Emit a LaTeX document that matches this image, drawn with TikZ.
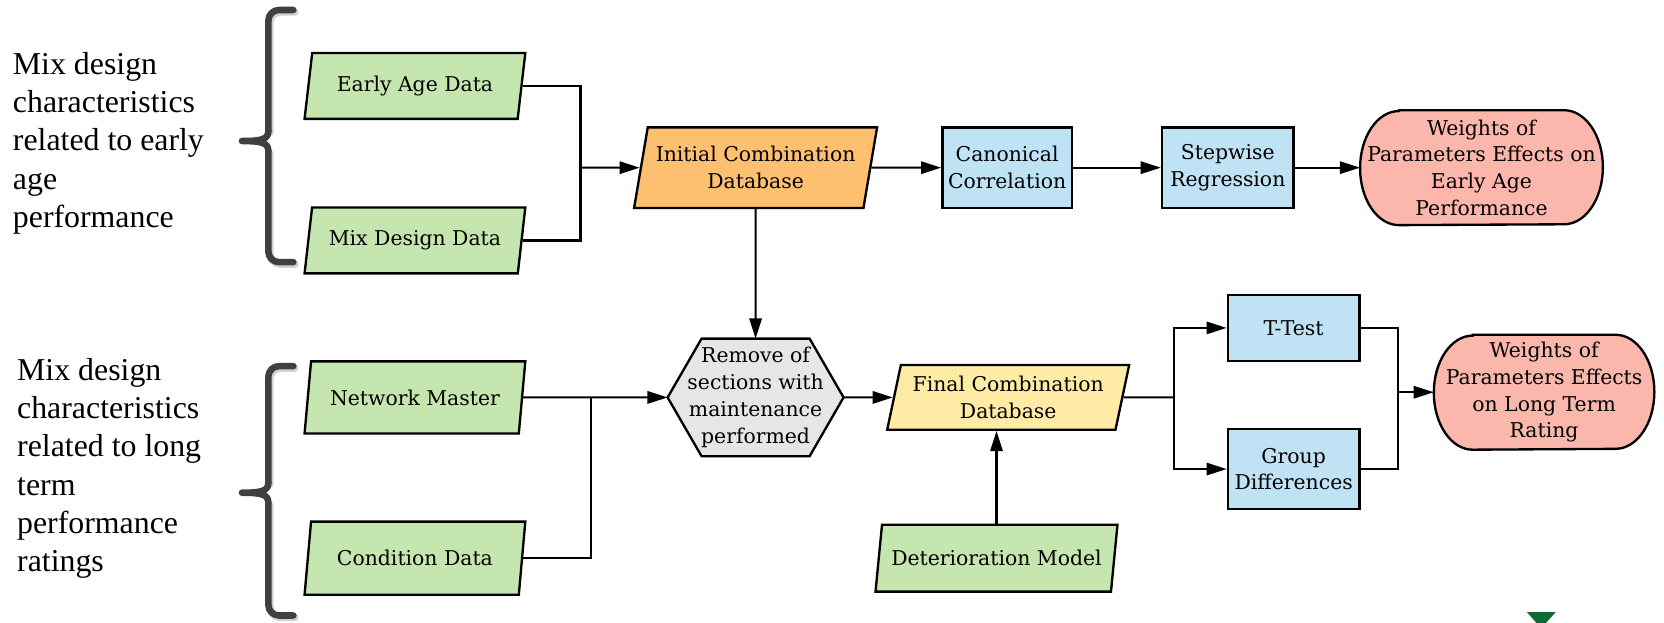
\documentclass[tikz,border=0pt]{standalone}
\usepackage{fontspec}
\setmainfont{DejaVu Serif}
\newfontfamily\leftfont{Liberation Serif}
\usetikzlibrary{arrows.meta,shapes.geometric,backgrounds}
\definecolor{cgreen}{HTML}{C5E7AF}
\definecolor{corange}{HTML}{FDBF70}
\definecolor{cblue}{HTML}{BFE3F5}
\definecolor{cpink}{HTML}{FCB7AC}
\definecolor{cyellow}{HTML}{FFEBA6}
\definecolor{cgray}{HTML}{E6E6E6}
\definecolor{cbracket}{HTML}{404040}
\definecolor{cdkgreen}{HTML}{0E6B36}
\begin{document}
\begin{tikzpicture}[x=0.5pt,y=-0.5pt,
  nodefont/.style={font=\fontsize{9.6}{12.6}\selectfont},
  base/.style={nodefont, align=center, line width=1.1pt, draw=black},
  para/.style={base, trapezium, trapezium left angle=75, trapezium right angle=105,
    trapezium stretches body, inner xsep=2pt, inner ysep=2pt, minimum width=104pt},
  procbox/.style={base, rectangle, fill=cblue, minimum width=61pt, inner sep=2pt},
  termnode/.style={nodefont, align=center, minimum height=53.75pt, inner sep=0pt},
  hexnode/.style={nodefont, align=center, minimum width=82.5pt, minimum height=55pt, inner sep=0pt},
  shapeline/.style={line width=1.1pt, draw=black},
  conn/.style={line width=1pt},
  arr/.style={conn, -{Triangle[length=9.5pt,width=5.8pt]}},
  sidetext/.style={font=\leftfont\fontsize{15}{18}\selectfont, align=left, anchor=west, inner sep=0pt},
  bracket/.style={line width=3.1pt, draw=cbracket, line cap=round, line join=round},
  bracketshadow/.style={line width=3.4pt, draw=black, opacity=0.18, line cap=round, line join=round}
]
\useasboundingbox (0,0) rectangle (1568,587);

% side texts
\node[sidetext] (txt1) at (11.8,135) {Mix design\\characteristics\\related to early\\age\\performance};
\node[sidetext] (txt2) at (15.8,441.3) {Mix design\\characteristics\\related to long\\term\\performance\\ratings};

% brackets
\foreach \t/\m/\b/\s in {9.4/132.9/247/bracketshadow, 345/464.3/580/bracketshadow}{
  \draw[\s, rounded corners=5pt, shift={(1.5,2)}] (276.4,\t) -- (252.9,\t) -- (252.9,\m-10);
  \draw[\s, rounded corners=5pt, shift={(1.5,2)}] (252.9,\m+10) -- (252.9,\b) -- (276.4,\b);
}
\foreach \t/\m/\b in {9.4/132.9/247, 345/464.3/580}{
  \draw[bracket, rounded corners=5pt] (276.4,\t) -- (252.9,\t) -- (252.9,\m-10);
  \draw[bracket] (252.9,\m-10) .. controls (252.9,\m-2) and (248,\m) .. (228,\m)
                 (228,\m) .. controls (248,\m) and (252.9,\m+2) .. (252.9,\m+10);
  \draw[bracket, rounded corners=5pt] (252.9,\m+10) -- (252.9,\b) -- (276.4,\b);
}

% input parallelograms
\node[para, fill=cgreen, minimum height=31pt] (EA) at (391,81) {Early Age Data};
\node[para, fill=cgreen, minimum height=31pt] (MD) at (391,226.6) {Mix Design Data};
\node[para, fill=cgreen, minimum height=34pt] (NM) at (391,374.5) {Network Master};
\node[para, fill=cgreen, minimum height=34.5pt] (CD) at (391,526) {Condition Data};

\node[para, fill=corange, minimum width=114.5pt, minimum height=38pt] (IC) at (712,158) {Initial Combination\\Database};
\node[procbox, minimum height=38pt] (CC) at (949,158) {Canonical\\Correlation};
\node[procbox, minimum width=62pt, minimum height=38pt] (SR) at (1157,158) {Stepwise\\Regression};
\node[termnode, minimum width=114pt] (T1) at (1396,158) {Weights of\\Parameters Effects on\\Early Age\\Performance};

\node[hexnode] (HX) at (712,374.5) {Remove of\\sections with\\maintenance\\performed};
\node[para, fill=cyellow, minimum width=114pt, minimum height=30.5pt] (FC) at (950,374.5) {Final Combination\\Database};
\node[para, fill=cgreen, minimum width=114pt, minimum height=31.5pt] (DM) at (939,526) {Deterioration Model};

\node[procbox, minimum width=62pt, minimum height=31pt] (TT) at (1219,309) {T-Test};
\node[procbox, minimum width=62pt, minimum height=37.7pt] (GD) at (1219,442) {Group\\Differences};
\node[termnode, minimum width=103.5pt] (T2) at (1455,369.6) {Weights of\\Parameters Effects\\on Long Term\\Rating};

% shapes drawn behind texts
\begin{scope}[on background layer]
  \foreach \n in {T1,T2}{
    \path[shapeline, fill=cpink] ([xshift=18.3pt]\n.north west) -- ([xshift=-18.3pt]\n.north east)
      arc[start angle=90, end angle=-90, x radius=18.3pt, y radius=26.875pt]
      -- ([xshift=18.3pt]\n.south west)
      arc[start angle=270, end angle=90, x radius=18.3pt, y radius=26.875pt] -- cycle;
  }
  \path[shapeline, fill=cgray] (HX.west) -- ([xshift=16pt]HX.north west) -- ([xshift=-16pt]HX.north east)
    -- (HX.east) -- ([xshift=-16pt]HX.south east) -- ([xshift=16pt]HX.south west) -- cycle;
\end{scope}

% junctions
\coordinate (j1) at (547,158);
\coordinate (j2) at (557,374.5);
\coordinate (j3) at (1106,374.5);
\coordinate (j4) at (1317.5,369.6);

% connectors
\draw[conn] (EA.east) -| (j1);
\draw[conn] (MD.east) -| (j1);
\draw[arr] (j1) -- (IC.west);
\draw[arr] (IC.east) -- (CC.west);
\draw[arr] (CC.east) -- (SR.west);
\draw[arr] (SR.east) -- (T1.west);
\draw[arr] (IC.south) -- (HX.north);
\draw[arr] (NM.east) -- (HX.west);
\draw[conn] (CD.east) -| (j2);
\draw[arr] (HX.east) -- (FC.west);
\draw[arr] (DM.north) -- (DM.north |- FC.south);
\draw[conn] (FC.east) -- (j3);
\draw[arr] (j3) |- (TT.west);
\draw[arr] (j3) |- (GD.west);
\draw[conn] (TT.east) -| (j4);
\draw[conn] (GD.east) -| (j4);
\draw[arr] (j4) -- (T2.west);

% small marker at bottom edge
\fill[cdkgreen] (1438.6,576.7) -- (1466,576.7) -- (1452.3,592) -- cycle;
\end{tikzpicture}
\end{document}
